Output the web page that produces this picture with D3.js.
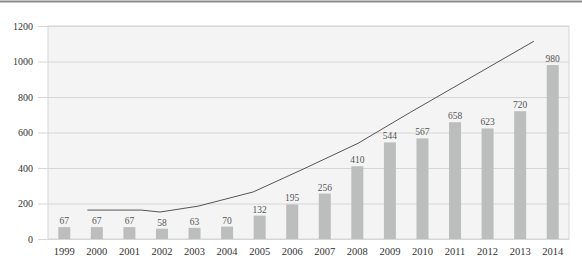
<!DOCTYPE html>
<html>
<head>
    <script src="https://d3js.org/d3.v7.min.js"></script>
    <style>
        body { margin: 0; background: #fff; }
        text { font-family: "Liberation Serif", "Times New Roman", serif; }
    </style>
</head>
<body>
    <script>
        //****DATA****
        const years = ['1999', '2000', '2001', '2002', '2003', '2004', '2005', '2006',
                       '2007', '2008', '2009', '2010', '2011', '2012', '2013', '2014'];
        const barValues = [67, 67, 67, 58, 63, 70, 132, 195, 256, 410, 544, 567, 658, 623, 720, 980];
        // trend line (x in years, not aligned to bars)
        const lineYears = [1999.71, 2001.36, 2001.94, 2003.11, 2004.8, 2006.27, 2008.02, 2009.64, 2013.42];
        const lineValues = [163, 163, 152, 185, 265, 388, 539, 715, 1114];
        const yTicks = [0, 200, 400, 600, 800, 1000, 1200];

        //****SVG****
        const width = 582, height = 256;
        const plotLeft = 48, plotRight = 569, plotTop = 26, plotBottom = 239;
        const gridStart = 38;

        const svg = d3.select('body').append('svg')
            .attr('width', width)
            .attr('height', height);

        // top rule
        svg.append('line')
            .attr('x1', 0).attr('x2', width)
            .attr('y1', 1.5).attr('y2', 1.5)
            .attr('stroke', '#8a8a8a')
            .attr('stroke-width', 2);

        //****SCALES****
        const xScale = d3.scaleBand()
            .domain(years)
            .range([plotLeft, plotRight])
            .padding(0);

        const yScale = d3.scaleLinear()
            .domain([0, 1200])
            .range([plotBottom, plotTop]);

        const bw = xScale.bandwidth();
        const xYear = d3.scaleLinear()
            .domain([1999, 2014])
            .range([xScale('1999') + bw / 2, xScale('2014') + bw / 2]);

        // plot background
        svg.append('rect')
            .attr('x', plotLeft).attr('y', plotTop)
            .attr('width', plotRight - plotLeft).attr('height', plotBottom - plotTop)
            .attr('fill', '#f4f4f4')
            .attr('stroke', '#d6d6d6')
            .attr('stroke-width', 1);

        //****AXES****
        const yAxis = d3.axisLeft(yScale)
            .tickValues(yTicks)
            .tickFormat(d3.format('d'))
            .tickSize(-(plotRight - gridStart))
            .tickPadding(5);

        const yG = svg.append('g')
            .attr('transform', `translate(${gridStart}, 0)`)
            .call(yAxis);
        yG.select('.domain').remove();
        yG.selectAll('.tick line')
            .attr('stroke', '#d6d6d6');
        yG.selectAll('.tick text')
            .style('font-size', '10px')
            .attr('fill', '#333');

        const xAxis = d3.axisBottom(xScale).tickSize(0).tickPadding(9);
        const xG = svg.append('g')
            .attr('transform', `translate(0, ${plotBottom})`)
            .call(xAxis);
        xG.select('.domain').remove();
        xG.selectAll('text')
            .style('font-size', '10.5px')
            .attr('fill', '#333');

        //****BARS****
        const barW = 12;
        svg.selectAll('.bar')
            .data(years)
            .enter()
            .append('rect')
            .attr('class', 'bar')
            .attr('x', d => xScale(d) + bw / 2 - barW / 2)
            .attr('y', (d, i) => yScale(barValues[i]))
            .attr('width', barW)
            .attr('height', (d, i) => plotBottom - yScale(barValues[i]))
            .attr('fill', '#bcbebe');

        svg.selectAll('.val')
            .data(years)
            .enter()
            .append('text')
            .attr('class', 'val')
            .attr('x', d => xScale(d) + bw / 2)
            .attr('y', (d, i) => yScale(barValues[i]) - 3)
            .attr('text-anchor', 'middle')
            .style('font-size', '9.5px')
            .attr('fill', '#555')
            .text((d, i) => barValues[i]);

        //****LINE****
        const line = d3.line()
            .x(d => xYear(d[0]))
            .y(d => yScale(d[1]));

        svg.append('path')
            .datum(lineYears.map((y, i) => [y, lineValues[i]]))
            .attr('d', line)
            .attr('fill', 'none')
            .attr('stroke', '#555')
            .attr('stroke-width', 1);
    </script>
</body>
</html>
